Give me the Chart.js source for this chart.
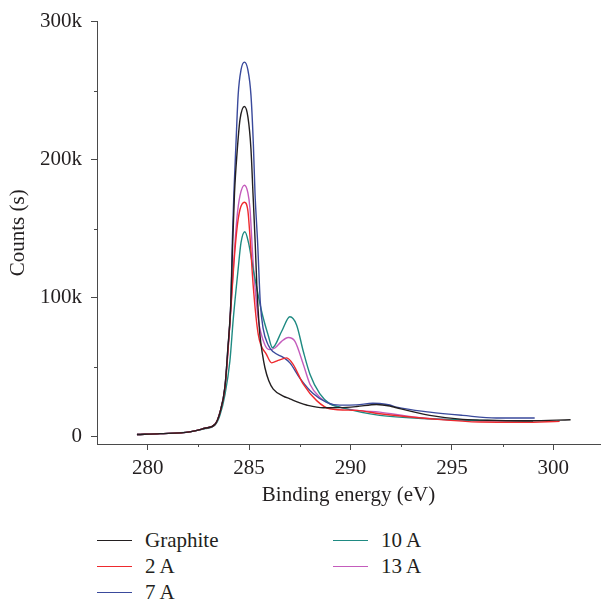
<!DOCTYPE html>
<html>
<head>
<meta charset="utf-8">
<script src="https://cdn.jsdelivr.net/npm/chart.js@4.4.1/dist/chart.umd.min.js"></script>
<style>
  body { margin: 0; background: #fff; }
  #wrap { position: relative; width: 601px; height: 605px; font-family: "Liberation Serif", serif; color: #231f20; }
  #chart { position: absolute; left: 0; top: 0; }
  .item { position: absolute; height: 20px; font-size: 21px; line-height: 20px; white-space: nowrap; }
  .item span.line { position: absolute; left: 0; top: 10px; width: 35px; height: 0; border-top: 1.5px solid; }
  .item span.txt { position: absolute; left: 48px; top: 0; }
</style>
</head>
<body>
<div id="wrap">
  <canvas id="chart" width="601" height="508"></canvas>
  <div id="legend"></div>
</div>
<script>
// binding energy (eV) and counts (thousands)
const graphiteE = [279.47, 280.61, 282.08, 282.82, 283.32, 283.56, 283.81, 283.95, 284.10, 284.19, 284.28, 284.40, 284.55, 284.77, 284.94, 285.09, 285.19, 285.30, 285.38, 285.45, 285.53, 285.65, 285.78, 285.97, 286.19, 286.68, 287.01, 287.50, 287.83, 288.65, 289.47, 290.30, 291.28, 291.94, 292.27, 293.91, 295.53, 297.19, 298.83, 300.85];
const graphiteC = [1.2, 1.8, 3.1, 5.7, 8.6, 17, 36, 63, 97, 140, 176, 204, 229, 238.6, 231, 208, 176, 140, 109, 90, 73.6, 60, 49.5, 40, 34, 29, 27, 24, 22.5, 20.5, 20.6, 21.4, 22.9, 21.8, 20.5, 15, 12.1, 11.4, 11.1, 11.9];

const a2E = [279.47, 280.61, 282.08, 282.82, 283.32, 283.56, 283.81, 283.95, 284.10, 284.25, 284.40, 284.55, 284.77, 284.94, 285.04, 285.20, 285.45, 285.86, 286.11, 286.43, 286.85, 287.17, 287.67, 288.33, 288.98, 290.30, 291.44, 293.91, 296.37, 298.50, 300.31];
const a2C = [1.2, 1.8, 3.1, 5.7, 8.6, 17, 35, 60, 92, 125, 150, 164, 169.3, 163, 145, 109, 73.6, 59, 53, 54.8, 56.6, 52, 37.6, 25.7, 19.8, 18.6, 16.2, 12.6, 10.2, 10.0, 10.7];

const a7E = [279.47, 280.61, 282.08, 282.82, 283.32, 283.56, 283.81, 283.95, 284.10, 284.17, 284.25, 284.35, 284.46, 284.60, 284.77, 284.94, 285.09, 285.21, 285.29, 285.42, 285.55, 285.69, 285.94, 286.19, 286.68, 287.01, 287.50, 288.14, 288.82, 289.47, 290.30, 291.10, 291.44, 291.94, 292.27, 293.91, 295.53, 297.19, 299.08];
const a7C = [1.2, 1.8, 3.1, 5.7, 8.6, 17, 36, 63, 97, 140, 176, 211, 247, 265, 270.7, 265, 247, 211, 176, 140, 97, 78, 66, 61, 57, 53, 42, 31, 24.5, 22.4, 22.6, 23.8, 23.6, 22.5, 21, 17.4, 15, 13.1, 13.1];

const a10E = [279.47, 280.61, 282.08, 282.82, 283.32, 283.56, 283.81, 284.05, 284.22, 284.46, 284.60, 284.79, 284.97, 285.20, 285.62, 285.94, 286.15, 286.60, 287.01, 287.34, 287.67, 288.00, 288.49, 288.98, 289.47, 291.44, 293.91, 296.37, 299.00];
const a10C = [1.2, 1.8, 3.1, 5.4, 8, 15, 30, 54, 85, 121, 140, 147.9, 140, 121, 90, 73, 64, 75.7, 86.4, 80.5, 61.4, 44.8, 30.5, 23.4, 21, 15, 12.6, 11.4, 10.7];

const a13E = [279.47, 280.61, 282.08, 282.82, 283.32, 283.56, 283.81, 283.95, 284.10, 284.25, 284.40, 284.55, 284.77, 284.94, 285.04, 285.20, 285.45, 285.78, 286.02, 286.27, 286.60, 286.93, 287.26, 287.67, 288.00, 288.49, 288.98, 290.30, 291.44, 293.07, 295.53, 298.83];
const a13C = [1.2, 1.8, 3.1, 5.7, 8.6, 17, 35, 60, 93, 128, 158, 174, 181.6, 176, 165, 125, 85, 66, 62.6, 63.8, 68.6, 71.4, 68.6, 52, 37.6, 28, 23.4, 18.6, 17.4, 13.8, 11.4, 10.9];

const seriesNames = ['Graphite', '2 A', '7 A', '10 A', '13 A'];
const seriesColors = ['#231f20', '#ee2a2e', '#3a4a9c', '#1f8a82', '#c45cbc'];
const seriesE = [graphiteE, a2E, a7E, a10E, a13E];
const seriesC = [graphiteC, a2C, a7C, a10C, a13C];

const xTicks = [280, 285, 290, 295, 300];
const xMinor = [282.5, 287.5, 292.5, 297.5];
const yTicks = [0, 100, 200, 300];
const yMinor = [50, 150, 250];

const axisColor = '#4a4a4a';
const textColor = '#231f20';

let toPoints = (es, cs) => es.map((e, i) => ({ x: e, y: cs[i] }));

const datasets = seriesNames.map((name, i) => ({
  label: name,
  data: toPoints(seriesE[i], seriesC[i]),
  borderColor: seriesColors[i],
  borderWidth: 1.4,
  pointRadius: 0,
  fill: false,
  cubicInterpolationMode: 'monotone'
}));

// short minor ticks, the library only does one tick length
const minorTicks = {
  id: 'minorTicks',
  afterDraw(chart) {
    const { ctx, scales: { x, y } } = chart;
    ctx.save();
    ctx.strokeStyle = axisColor;
    ctx.lineWidth = 1;
    xMinor.forEach(v => {
      const px = Math.round(x.getPixelForValue(v)) + 0.5;
      ctx.beginPath();
      ctx.moveTo(px, x.top);
      ctx.lineTo(px, x.top + 3);
      ctx.stroke();
    });
    yMinor.forEach(v => {
      const py = Math.round(y.getPixelForValue(v)) + 0.5;
      ctx.beginPath();
      ctx.moveTo(y.right, py);
      ctx.lineTo(y.right - 3, py);
      ctx.stroke();
    });
    ctx.restore();
  }
};

const font = { family: '"Liberation Serif", serif', size: 21 };

new Chart(document.getElementById('chart'), {
  type: 'line',
  data: { datasets: datasets },
  options: {
    responsive: false,
    animation: false,
    devicePixelRatio: 1,
    layout: { padding: { top: 16, right: 1, left: 0, bottom: 0 } },
    plugins: { legend: { display: false }, tooltip: { enabled: false } },
    scales: {
      x: {
        type: 'linear',
        min: 277.5,
        max: 302.3,
        afterBuildTicks: s => { s.ticks = xTicks.map(v => ({ value: v })); },
        afterFit: s => { s.height = 64; },
        grid: { drawOnChartArea: false, drawTicks: true, tickLength: 6, color: axisColor },
        border: { display: true, color: axisColor, width: 1 },
        ticks: { color: textColor, font: font, padding: 6, maxRotation: 0 },
        title: { display: true, text: 'Binding energy (eV)', color: textColor, font: font, padding: 0 }
      },
      y: {
        min: -5.7,
        max: 300,
        afterBuildTicks: s => { s.ticks = yTicks.map(v => ({ value: v })); },
        afterFit: s => { s.width = 97; },
        grid: { drawOnChartArea: false, drawTicks: true, tickLength: 6, color: axisColor },
        border: { display: true, color: axisColor, width: 1 },
        ticks: { color: textColor, font: font, padding: 9, callback: v => v === 0 ? '0' : v + 'k' },
        title: { display: true, text: 'Counts (s)', color: textColor, font: font, padding: { top: 6, bottom: 0 } }
      }
    }
  },
  plugins: [minorTicks]
});

// legend in two columns under the plot
const legendPos = [[97, 530], [97, 556], [97, 582], [333, 530], [333, 556]];
const legendBox = document.getElementById('legend');
seriesNames.forEach((name, i) => {
  const div = document.createElement('div');
  div.className = 'item';
  div.style.left = legendPos[i][0] + 'px';
  div.style.top = legendPos[i][1] + 'px';
  div.innerHTML = `<span class="line" style="border-color:${seriesColors[i]}"></span><span class="txt">${name}</span>`;
  legendBox.appendChild(div);
});
</script>
</body>
</html>
